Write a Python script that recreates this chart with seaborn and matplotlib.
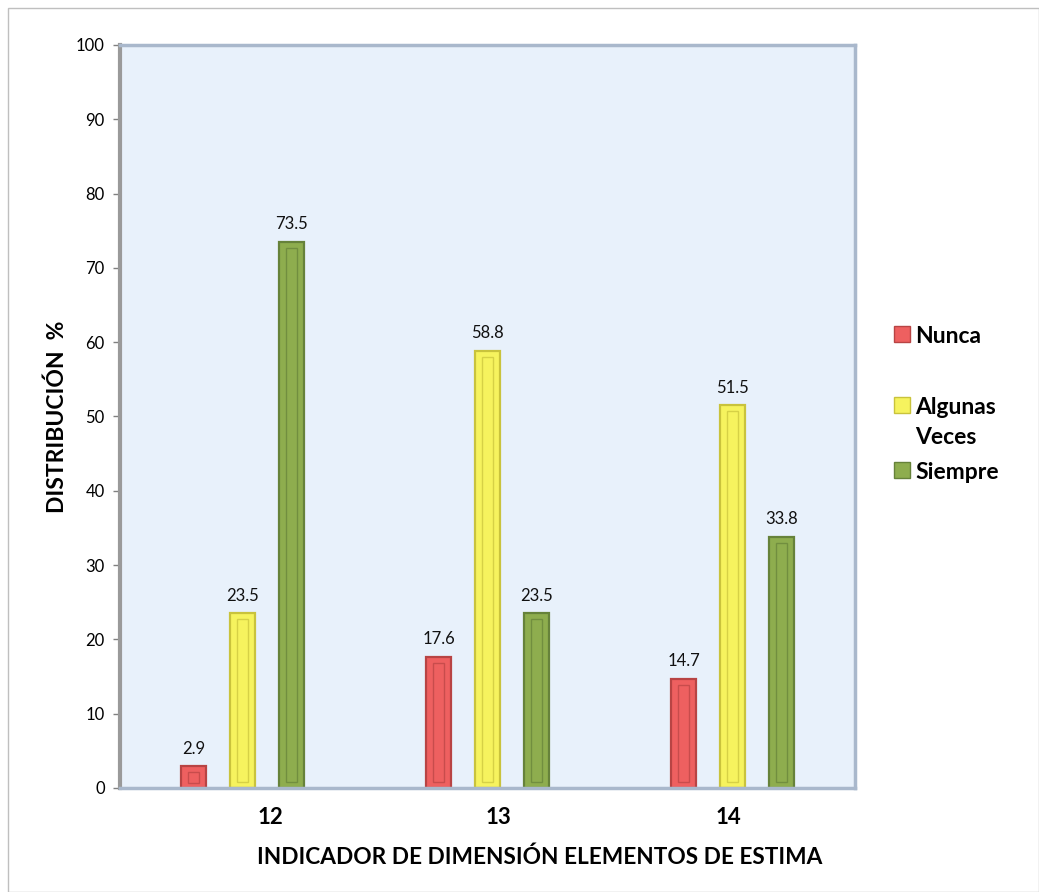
import matplotlib
matplotlib.use("Agg")
import matplotlib.pyplot as plt
import matplotlib.transforms as mtrans
import seaborn as sns
import pandas as pd
from matplotlib.patches import Rectangle

indicadores = ["12", "13", "14"]
respuestas = ["Nunca", "Algunas Veces", "Siempre"]
nunca = [2.9, 17.6, 14.7]
algunas = [23.5, 58.8, 51.5]
siempre = [73.5, 23.5, 33.8]
y_ticks = list(range(0, 101, 10))

rows = []
for i, ind in enumerate(indicadores):
    for resp, vals in zip(respuestas, [nunca, algunas, siempre]):
        rows.append({"Indicador": ind, "Respuesta": resp, "Valor": vals[i]})
df = pd.DataFrame(rows)

sns.set_theme(style="white")
plt.rcParams["font.family"] = ["Lato", "DejaVu Sans"]
plt.rcParams["text.color"] = "black"
plt.rcParams["axes.labelcolor"] = "black"
plt.rcParams["xtick.color"] = "black"
plt.rcParams["ytick.color"] = "black"

fill = {"Nunca": "#EE6060", "Algunas Veces": "#F6F35E", "Siempre": "#8EAD4E"}
edge = {"Nunca": "#B84444", "Algunas Veces": "#C9C33C", "Siempre": "#66823A"}

fig = plt.figure(figsize=(10.39, 8.92), dpi=100)
fig.patch.set_facecolor("white")
fig.add_artist(Rectangle((0.008, 0.0), 0.992, 0.991, transform=fig.transFigure,
                         fill=False, edgecolor="#BFBFBF", linewidth=1.0))
ax = fig.add_axes([0.1155, 0.1166, 0.7074, 0.833])
ax.set_facecolor("#E8F1FB")

sns.barplot(data=df, x="Indicador", y="Valor", hue="Respuesta", order=indicadores,
            hue_order=respuestas, palette=fill, width=0.6, gap=0.49,
            saturation=1, ax=ax, legend=True)

for cont, resp in zip(ax.containers, respuestas):
    for bar in cont:
        bar.set_edgecolor(edge[resp])
        bar.set_linewidth(1.6)
        x0, w, h = bar.get_x(), bar.get_width(), bar.get_height()
        ax.add_patch(Rectangle((x0 + w * 0.28, min(0.8, h * 0.25)), w * 0.44,
                               max(h - min(1.6, h * 0.5), 0.01),
                               facecolor="none", edgecolor=edge[resp],
                               linewidth=1.0, alpha=0.7))
    ax.bar_label(cont, fmt="%.1f", padding=7, fontsize=12, color="#111111")

ax.set_ylim(0, 100)
ax.set_xlim(-0.5, 2.5)
ax.set_yticks(y_ticks)
ax.set_yticklabels([str(t) for t in y_ticks], fontsize=12)
ax.tick_params(axis="y", which="major", direction="out", length=5, width=1,
               color="#808080", left=True, pad=6)
ax.tick_params(axis="x", which="major", length=0, pad=14)
for lab in ax.get_xticklabels():
    lab.set_fontsize(16)
    lab.set_fontweight("bold")

for s in ["top", "right", "bottom"]:
    ax.spines[s].set_color("#A9B8CC")
    ax.spines[s].set_linewidth(2.5)
ax.spines["left"].set_color("#9A9A9A")
ax.spines["left"].set_linewidth(3)

ax.set_xlabel("INDICADOR DE DIMENSIÓN ELEMENTOS DE ESTIMA", fontsize=16.3,
              fontweight="bold")
ax.xaxis.set_label_coords(0.571, -0.079)
ax.set_ylabel("DISTRIBUCIÓN  %", fontsize=16.5, fontweight="bold", labelpad=6)

handles, labels = ax.get_legend_handles_labels()
labels = ["Nunca\n ", "Algunas\nVeces", "Siempre"]
for h, resp in zip(handles, respuestas):
    h.set_edgecolor(edge[resp])
leg = ax.legend(handles, labels, loc="center left", bbox_to_anchor=(1.04, 0.516),
                frameon=False, prop={"size": 16.5, "weight": "bold"},
                handlelength=0.7, handleheight=0.7, handletextpad=0.25,
                labelspacing=0.62, borderaxespad=0)
for t in leg.get_texts():
    t.set_linespacing(1.55)
leg.get_texts()[0].set_linespacing(1.85)
for col in leg._legend_handle_box.get_children():
    for row in col.get_children():
        row.align = "top"
        row.get_children()[0].set_offset((0, -5))

# Excel-like slight horizontal shift of category labels (pixels)
shifts = [28, 11, -4]
for lab, dx in zip(ax.get_xticklabels(), shifts):
    lab.set_transform(lab.get_transform() +
                      mtrans.ScaledTranslation(dx / 100, 0, fig.dpi_scale_trans))

fig.savefig("out.png", dpi=100, facecolor="white")
